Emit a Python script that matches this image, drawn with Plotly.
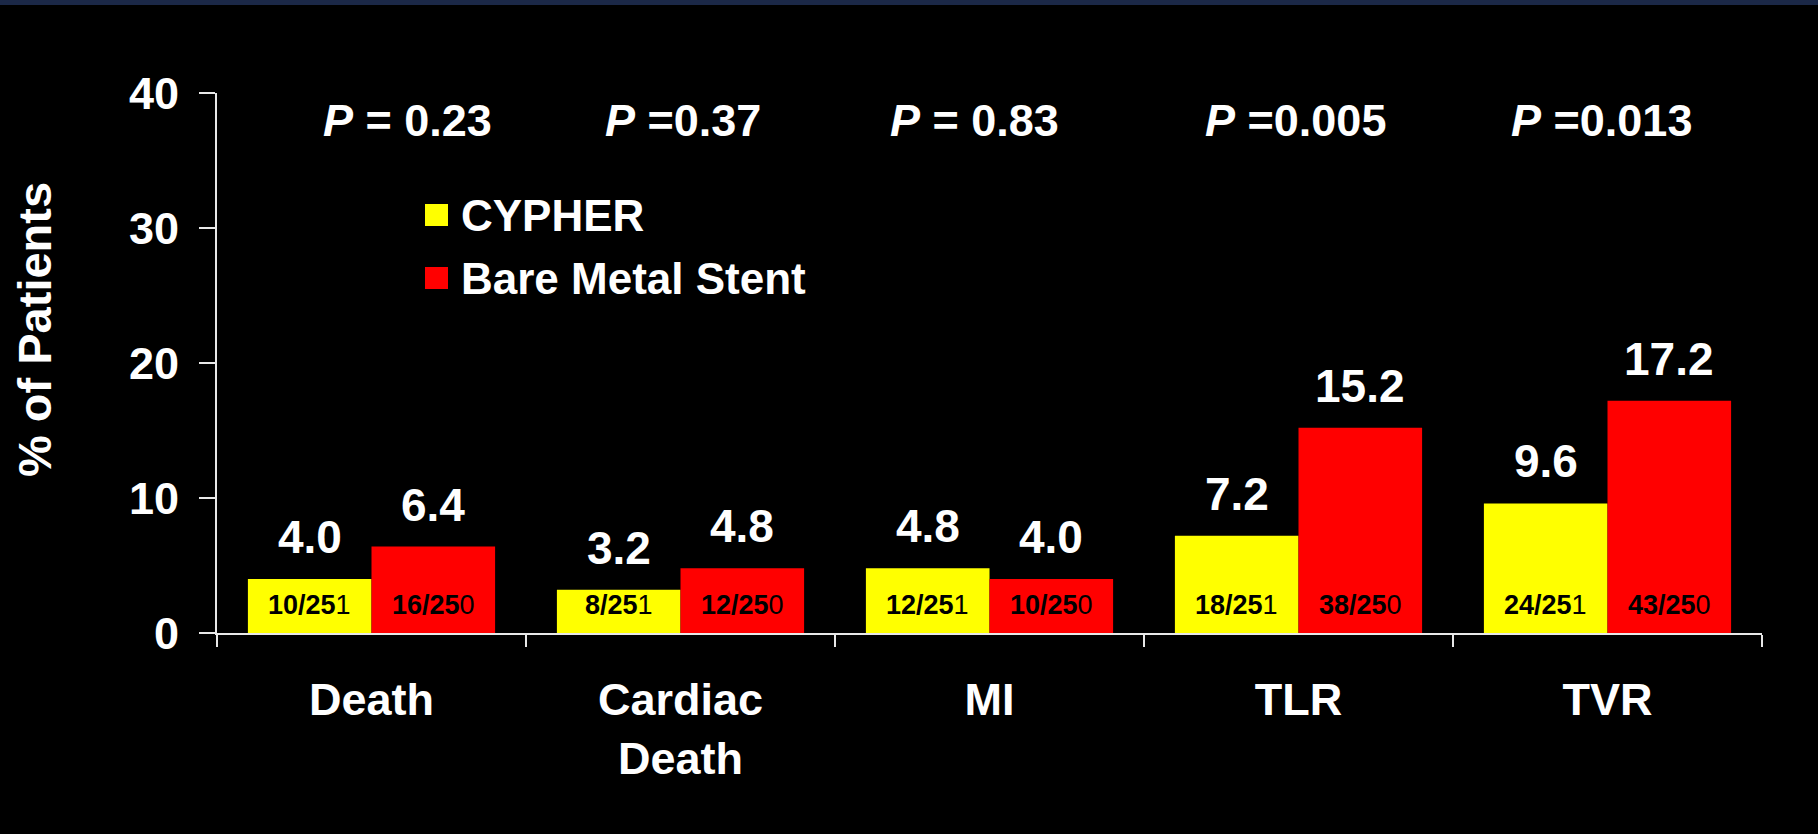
import plotly.graph_objects as go

# ---- data ----
categories = ["Death", "Cardiac<br>Death", "MI", "TLR", "TVR"]
cypher_pct = [4.0, 3.2, 4.8, 7.2, 9.6]
bms_pct = [6.4, 4.8, 4.0, 15.2, 17.2]
cypher_counts = ["10/251", "8/251", "12/251", "18/251", "24/251"]
bms_counts = ["16/250", "12/250", "10/250", "38/250", "43/250"]
p_labels = ["<i>P</i> = 0.23", "<i>P</i> =0.37", "<i>P</i> = 0.83", "<i>P</i> =0.005", "<i>P</i> =0.013"]
series_names = ["CYPHER", "Bare Metal Stent"]
y_ticks = [0, 10, 20, 30, 40]

# ---- style ----
W, H = 1818, 834
ML, MR, MT, MB = 217, 56, 93, 201
PW, PH = W - ML - MR, H - MT - MB
YELLOW, RED = "#FFFF00", "#FF0000"
AXIS = "#e8e8e8"
FONT = "Liberation Sans, Arial, sans-serif"
p_xshift = [36, 2, -15, -3, -6]


def px_x(px):
    return (px - ML) / PW


def px_y(py):
    return (H - MB - py) / PH


fig = go.Figure()
fig.add_trace(go.Bar(x=categories, y=cypher_pct, name=series_names[0],
                     marker=dict(color=YELLOW, line=dict(width=0)), showlegend=False))
fig.add_trace(go.Bar(x=categories, y=bms_pct, name=series_names[1],
                     marker=dict(color=RED, line=dict(width=0)), showlegend=False))

ann = []
off = 0.2
for i in range(len(categories)):
    for vals, counts, dx in ((cypher_pct, cypher_counts, -off), (bms_pct, bms_counts, off)):
        ann.append(dict(x=i + dx, y=vals[i], xref="x", yref="y", text=f"{vals[i]:.1f}",
                        showarrow=False, yanchor="bottom", yshift=14,
                        font=dict(family=FONT, size=46, color="white", weight="bold")))
        c = counts[i]
        ann.append(dict(x=i + dx, y=0, xref="x", yref="y", text=f"<b>{c[:-1]}</b>{c[-1]}",
                        showarrow=False, yanchor="bottom", yshift=11,
                        font=dict(family=FONT, size=27, color="black")))
    ann.append(dict(x=i, y=px_y(121), xref="x", yref="paper", text=p_labels[i],
                    showarrow=False, yanchor="middle", xshift=p_xshift[i],
                    font=dict(family=FONT, size=45, color="white", weight="bold")))

# legend (custom)
leg_rows = [(series_names[0], YELLOW, 215), (series_names[1], RED, 278)]
shapes = [dict(type="rect", xref="paper", yref="paper", x0=-0.2, x1=1.2,
               y0=px_y(5), y1=px_y(0), fillcolor="#1b2847", line=dict(width=0), layer="below")]
for name, col, cy in leg_rows:
    shapes.append(dict(type="rect", xref="paper", yref="paper", x0=px_x(425), x1=px_x(448),
                       y0=px_y(cy + 11), y1=px_y(cy - 11), fillcolor=col, line=dict(width=0)))
    ann.append(dict(x=px_x(459), y=px_y(cy), xref="paper", yref="paper", text=name,
                    showarrow=False, xanchor="left", yanchor="middle",
                    font=dict(family=FONT, size=44, color="white", weight="bold")))

# y-axis title
ann.append(dict(x=px_x(34), y=px_y(330), xref="paper", yref="paper", text="% of Patients",
                textangle=-90, showarrow=False, xanchor="center", yanchor="middle",
                font=dict(family=FONT, size=47, color="white", weight="bold")))

fig.update_layout(
    width=W, height=H,
    margin=dict(l=ML, r=MR, t=MT, b=MB, autoexpand=False),
    paper_bgcolor="black", plot_bgcolor="black",
    barmode="group", bargap=0.2, bargroupgap=0,
    annotations=ann, shapes=shapes, showlegend=False,
    xaxis=dict(type="category", range=[-0.5, 4.5], tickson="boundaries",
               ticks="outside", ticklen=12, tickwidth=2, tickcolor=AXIS,
               showline=True, linecolor=AXIS, linewidth=2, showgrid=False,
               tickfont=dict(family=FONT, size=45, color="white", weight="bold"),
               ticklabelstandoff=26),
    yaxis=dict(range=[0, 40], tickvals=y_ticks, ticks="outside", ticklen=16, tickwidth=2,
               tickcolor=AXIS, showline=True, linecolor=AXIS, linewidth=2,
               showgrid=False, zeroline=False,
               tickfont=dict(family=FONT, size=45, color="white", weight="bold"),
               ticklabelstandoff=11),
)

fig.write_html(
    "out.html",
    config={"displayModeBar": False},
    post_script="document.body.style.margin='0';document.body.style.background='black';",
)
